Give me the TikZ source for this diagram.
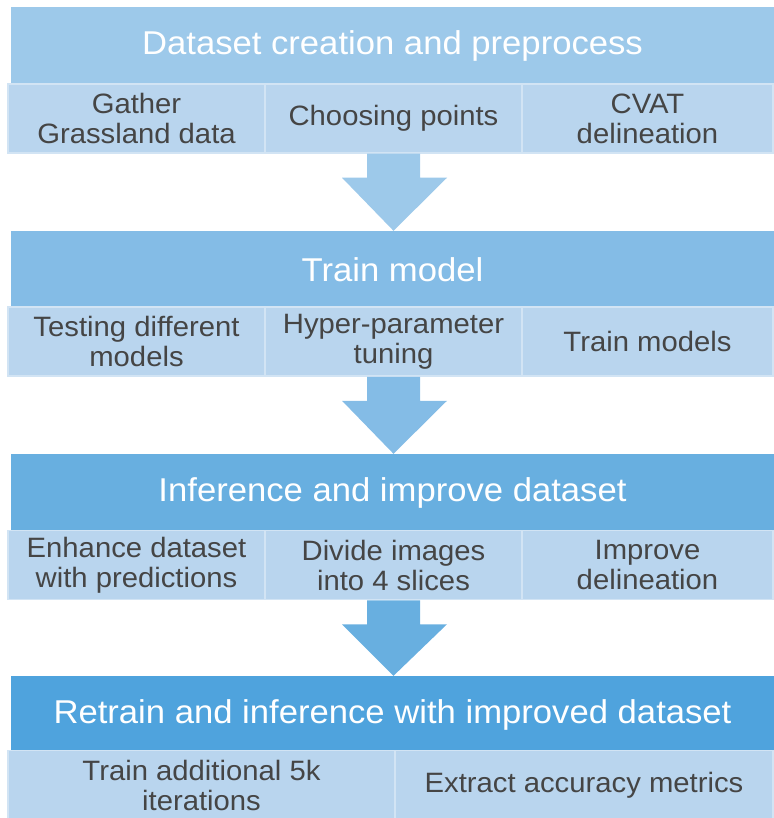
\documentclass[tikz,border=0pt]{standalone}
\usepackage{fontspec}
\setmainfont{Liberation Sans}
\newfontfamily\headfont[FakeStretch=1.05]{Liberation Sans}
\newfontfamily\subfont[FakeStretch=1.045]{Liberation Sans}
\usetikzlibrary{calc}
\definecolor{headA}{HTML}{9DC9EA}
\definecolor{headB}{HTML}{84BCE6}
\definecolor{headC}{HTML}{68AFE0}
\definecolor{headD}{HTML}{4FA3DD}
\definecolor{subfill}{HTML}{B9D5EE}
\definecolor{subline}{HTML}{D2E4F4}
\definecolor{subtext}{HTML}{454545}
\tikzset{
  header/.style={rectangle, inner sep=0pt, minimum width=763pt, minimum height=77pt,
    text=white, font=\headfont\fontsize{33}{37}\selectfont},
  subbox/.style={rectangle, inner sep=0pt, minimum height=69pt, fill=subfill,
    draw=subline, line width=1.5pt, text=subtext, align=center,
    font=\subfont\fontsize{28}{30}\selectfont}
}
\begin{document}
\begin{tikzpicture}[x=1pt,y=-1pt]
\useasboundingbox (0,0) rectangle (773,818);

% Stage 1
\node[header, fill=headA] (h1) at (392.5,46) {Dataset creation and preprocess};
\node[subbox, minimum width=257pt] (s11) at (136.5,118.5) {Gather\\Grassland data};
\node[subbox, minimum width=257pt] (s12) at (393.5,118.5) {Choosing points};
\node[subbox, minimum width=251pt] (s13) at (647.5,118.5) {CVAT\\delineation};

% Stage 2
\node[header, fill=headB] (h2) at (392.5,269.5) {Train model};
\node[subbox, minimum width=257pt] (s21) at (136.5,341.5) {Testing different\\models};
\node[subbox, minimum width=257pt] (s22) at (393.5,341.5) {Hyper-parameter\\tuning};
\node[subbox, minimum width=251pt] (s23) at (647.5,341.5) {Train models};

% Stage 3
\node[header, fill=headC] (h3) at (392.5,492.5) {Inference and improve dataset};
\node[subbox, minimum width=257pt] (s31) at (136.5,565) {Enhance dataset\\with predictions};
\node[subbox, minimum width=257pt] (s32) at (393.5,565) {Divide images\\into 4 slices};
\node[subbox, minimum width=251pt] (s33) at (647.5,565) {Improve\\delineation};

% Stage 4
\node[header, fill=headD] (h4) at (392.5,714.5) {Retrain and inference with improved dataset};
\node[subbox, minimum width=387pt] (s41) at (201.5,785) {Train additional 5k\\iterations};
\node[subbox, minimum width=378pt] (s42) at (584,785) {Extract accuracy metrics};

% Block arrows between stages
\foreach \from/\to/\col in {s12/h2/headA, s22/h3/headB, s32/h4/headC}{
  \fill[\col]
    ($(\from.south)+(-26.5,0)$) -- ($(\from.south)+(26.5,0)$)
    -- ($(\from.south)+(26.5,24)$) -- ($(\from.south)+(53.5,24)$)
    -- (\to.north -| \from.south)
    -- ($(\from.south)+(-51.5,24)$) -- ($(\from.south)+(-26.5,24)$) -- cycle;
}
\end{tikzpicture}
\end{document}
